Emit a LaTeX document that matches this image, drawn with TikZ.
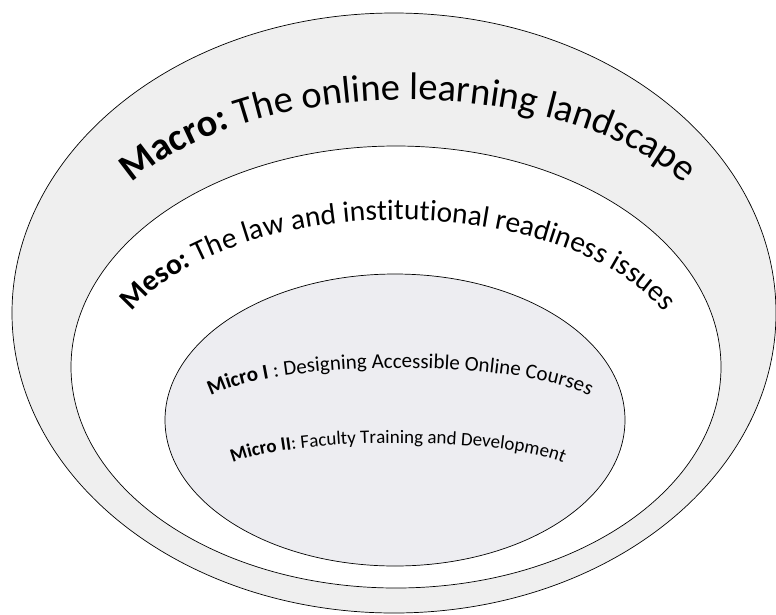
\documentclass[tikz,border=0pt]{standalone}
\usepackage{fontspec}
\setmainfont{Carlito}
\usetikzlibrary{shapes.geometric,decorations.text}

\definecolor{ringgray}{RGB}{239,239,239}
\definecolor{coregray}{RGB}{237,237,241}

\begin{document}
\begin{tikzpicture}[
	x=1pt, y=-1pt,
	ring/.style={
		ellipse,
		draw=black,
		line width=0.7pt,
		inner sep=0pt
	},
	arch/.style={
		decorate,
		decoration={text along path, text align=center, text={#1}}
	}
	]
	\useasboundingbox (0,0) rectangle (776,614);

	\node [ring, fill=ringgray, minimum width=764pt, minimum height=600pt] (macro) at (394,313) {};
	\node [ring, fill=white, minimum width=650pt, minimum height=442pt] (meso) at (396,367) {};
	\node [ring, fill=coregray, minimum width=460pt, minimum height=292pt] (micro) at (395,420) {};

	\path [arch={|\fontsize{38.5}{40}\selectfont\bfseries|Macro:|\fontsize{38.5}{40}\selectfont\mdseries| The online learning landscape}]
		(408,269) ++(190:320 and 169) arc [start angle=190, end angle=350, x radius=320, y radius=169];
	\path [arch={|\fontsize{29.5}{31}\selectfont\bfseries|Meso:|\fontsize{29.5}{31}\selectfont\mdseries| The law and institutional readiness issues}]
		(398,373) ++(190:290 and 153) arc [start angle=190, end angle=350, x radius=290, y radius=153];
	\path [arch={|\fontsize{21}{23}\selectfont\bfseries|Micro I|\fontsize{21}{23}\selectfont\mdseries| : Designing Accessible Online Courses}]
		(400,413) ++(185:205 and 45) arc [start angle=185, end angle=355, x radius=205, y radius=45];
	\path [arch={|\fontsize{19}{21}\selectfont\bfseries|Micro II|\fontsize{19}{21}\selectfont\mdseries|: Faculty Training and Development}]
		(398,476) ++(185:180 and 33) arc [start angle=185, end angle=355, x radius=180, y radius=33];
\end{tikzpicture}
\end{document}
